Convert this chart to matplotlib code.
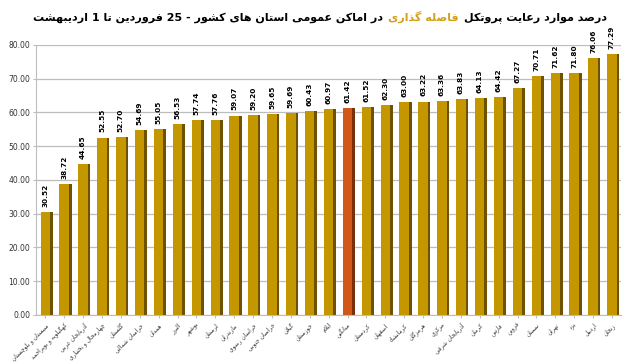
import matplotlib
matplotlib.use('Agg')
import matplotlib.pyplot as plt
import numpy as np
from matplotlib.offsetbox import TextArea, HPacker, AnchoredOffsetbox

plt.rcParams['font.family'] = ['DejaVu Sans']

# داده ها
provinces = ['سیستان و بلوچستان', 'کهگیلویه و بویراحمد', 'آذربایجان غربی', 'چهارمحال و بختیاری',
             'گلستان', 'خراسان شمالی', 'همدان', 'البرز', 'بوشهر', 'لرستان', 'مازندران',
             'خراسان رضوی', 'خراسان جنوبی', 'گیلان', 'خوزستان', 'ایلام', 'میانگین', 'کردستان',
             'اصفهان', 'کرمانشاه', 'هرمزگان', 'مرکزی', 'آذربایجان شرقی', 'کرمان', 'فارس',
             'قزوین', 'سمنان', 'تهران', 'یزد', 'اردبیل', 'زنجان']
values = [30.52, 38.72, 44.65, 52.55, 52.70, 54.69, 55.05, 56.53, 57.74, 57.76, 59.07,
          59.20, 59.65, 59.69, 60.43, 60.97, 61.42, 61.52, 62.30, 63.00, 63.22, 63.36,
          63.83, 64.13, 64.42, 67.27, 70.71, 71.62, 71.80, 76.06, 77.29]
highlight = 'میانگین'

# شکل حروف فارسی: (منفرد، پایانی، آغازی، میانی)
FORMS = {
    'آ': (0xFE81, 0xFE82), 'ا': (0xFE8D, 0xFE8E), 'د': (0xFEA9, 0xFEAA), 'ذ': (0xFEAB, 0xFEAC),
    'ر': (0xFEAD, 0xFEAE), 'ز': (0xFEAF, 0xFEB0), 'ژ': (0xFB8A, 0xFB8B), 'و': (0xFEED, 0xFEEE),
    'ب': (0xFE8F, 0xFE90, 0xFE91, 0xFE92), 'پ': (0xFB56, 0xFB57, 0xFB58, 0xFB59),
    'ت': (0xFE95, 0xFE96, 0xFE97, 0xFE98), 'ث': (0xFE99, 0xFE9A, 0xFE9B, 0xFE9C),
    'ج': (0xFE9D, 0xFE9E, 0xFE9F, 0xFEA0), 'چ': (0xFB7A, 0xFB7B, 0xFB7C, 0xFB7D),
    'ح': (0xFEA1, 0xFEA2, 0xFEA3, 0xFEA4), 'خ': (0xFEA5, 0xFEA6, 0xFEA7, 0xFEA8),
    'س': (0xFEB1, 0xFEB2, 0xFEB3, 0xFEB4), 'ش': (0xFEB5, 0xFEB6, 0xFEB7, 0xFEB8),
    'ص': (0xFEB9, 0xFEBA, 0xFEBB, 0xFEBC), 'ض': (0xFEBD, 0xFEBE, 0xFEBF, 0xFEC0),
    'ط': (0xFEC1, 0xFEC2, 0xFEC3, 0xFEC4), 'ظ': (0xFEC5, 0xFEC6, 0xFEC7, 0xFEC8),
    'ع': (0xFEC9, 0xFECA, 0xFECB, 0xFECC), 'غ': (0xFECD, 0xFECE, 0xFECF, 0xFED0),
    'ف': (0xFED1, 0xFED2, 0xFED3, 0xFED4), 'ق': (0xFED5, 0xFED6, 0xFED7, 0xFED8),
    'ک': (0xFB8E, 0xFB8F, 0xFB90, 0xFB91), 'گ': (0xFB92, 0xFB93, 0xFB94, 0xFB95),
    'ل': (0xFEDD, 0xFEDE, 0xFEDF, 0xFEE0), 'م': (0xFEE1, 0xFEE2, 0xFEE3, 0xFEE4),
    'ن': (0xFEE5, 0xFEE6, 0xFEE7, 0xFEE8), 'ه': (0xFEE9, 0xFEEA, 0xFEEB, 0xFEEC),
    'ی': (0xFBFC, 0xFBFD, 0xFBFE, 0xFBFF),
}


def shape_word(w):
    out = []
    i = 0
    while i < len(w):
        c = w[i]
        if c not in FORMS:
            out.append(c)
            i += 1
            continue
        prev = w[i - 1] if i > 0 else None
        join_prev = prev in FORMS and len(FORMS[prev]) == 4
        nxt = w[i + 1] if i + 1 < len(w) else None
        if c == 'ل' and nxt in ('ا', 'آ'):
            base = 0xFEFB if nxt == 'ا' else 0xFEF5
            out.append(chr(base + (1 if join_prev else 0)))
            i += 2
            continue
        f = FORMS[c]
        join_next = len(f) == 4 and nxt in FORMS
        if join_prev and join_next:
            out.append(chr(f[3]))
        elif join_prev:
            out.append(chr(f[1]))
        elif join_next:
            out.append(chr(f[2]))
        else:
            out.append(chr(f[0]))
        i += 1
    return ''.join(out)


def fa(text):
    words = text.split(' ')
    vis = []
    for w in reversed(words):
        if any(ch in FORMS for ch in w):
            vis.append(shape_word(w)[::-1])
        else:
            vis.append(w)
    return ' '.join(vis)


x = np.arange(len(values))
gold = '#C49600'
side = '#6E5200'
colors = ['#D2581A' if p == highlight else gold for p in provinces]
side_colors = ['#7A300A' if p == highlight else side for p in provinces]

fig = plt.figure(figsize=(6.4, 3.62), dpi=100)
ax = fig.add_axes([0.056, 0.13, 0.915, 0.746])

w = 0.5
ax.bar(x + w / 2 + 0.07, values, width=0.14, color=side_colors, zorder=2)
ax.bar(x, values, width=w, color=colors, zorder=3)

for xi, v in zip(x, values):
    ax.text(xi, v + 1.5, f'{v:.2f}', rotation=90, ha='center', va='bottom',
            fontsize=5.3, fontweight='bold', color='black')

ax.set_xlim(-0.5, len(values) - 0.5)
ax.set_ylim(0, 80)
ax.set_yticks(np.arange(0, 81, 10))
ax.set_yticklabels([f'{t:.2f}' for t in np.arange(0, 81, 10)], fontsize=5.5, color='#333333')
ax.yaxis.grid(True, color='#BDBDBD', linewidth=0.9, zorder=0)
ax.set_axisbelow(True)
ax.set_xticks(x)
ax.set_xticklabels([fa(p) for p in provinces], rotation=45, ha='right',
                   rotation_mode='anchor', fontsize=4.2, color='#333333')
ax.tick_params(axis='x', length=2, color='#BDBDBD', pad=3)
ax.tick_params(axis='y', length=2, color='#BDBDBD', pad=2)
for s in ['top', 'right']:
    ax.spines[s].set_visible(False)
ax.spines['left'].set_color('#BDBDBD')
ax.spines['bottom'].set_color('#BDBDBD')

# عنوان با بخش رنگی
part1 = TextArea(fa('در اماکن عمومی استان های کشور - 25 فروردین تا 1 اردیبهشت'),
                 textprops=dict(fontsize=8, fontweight='bold', color='black'))
part2 = TextArea(fa('فاصله گذاری'),
                 textprops=dict(fontsize=8, fontweight='bold', color='#D4A017'))
part3 = TextArea(fa('درصد موارد رعایت پروتکل'),
                 textprops=dict(fontsize=8, fontweight='bold', color='black'))
box = HPacker(children=[part1, part2, part3], align='baseline', pad=0, sep=4)
anchored = AnchoredOffsetbox(loc='upper center', child=box, pad=0, frameon=False,
                             bbox_to_anchor=(0.5, 0.97), bbox_transform=fig.transFigure,
                             borderpad=0)
fig.add_artist(anchored)

fig.savefig('out.png', dpi=100)
